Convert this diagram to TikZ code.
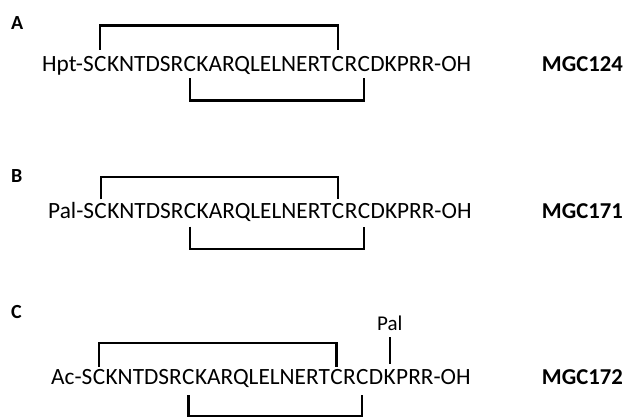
\documentclass[tikz,border=0pt]{standalone}
\usepackage{fontspec}
\setmainfont{Carlito}
\usepackage{tikz}
\usetikzlibrary{positioning,calc}

\begin{document}
\begin{tikzpicture}[x=1pt,y=1pt,
    res/.style={inner sep=0pt, anchor=base west, font=\fontsize{23.3}{28}\selectfont},
    panel/.style={inner sep=0pt, anchor=base west, font=\fontsize{20}{24}\selectfont\bfseries},
    pepname/.style={inner sep=0pt, anchor=base east, font=\fontsize{22.7}{27}\selectfont\bfseries},
    bond/.style={line width=2.2pt}]
\useasboundingbox (0,0) rectangle (628,416);

% A: MGC124
\node[panel] (lA) at (11,386) {A};
\node[res] (a0) at (42,344.3) {Hpt-S};
\node[res] (a1) at (a0.base east) {C};
\node[res] (a2) at (a1.base east) {KNTDSR};
\node[res] (a3) at (a2.base east) {C};
\node[res] (a4) at (a3.base east) {KARQLELNERT};
\node[res] (a5) at (a4.base east) {C};
\node[res] (a6) at (a5.base east) {R};
\node[res] (a7) at (a6.base east) {C};
\node[res] (a8) at (a7.base east) {DKPRR-OH};
\node[pepname] (nA) at (623,344.3) {MGC124};
\draw[bond] ([yshift=21.7pt]a1.base) -- ++(0,24.5) -| ([yshift=21.7pt]a5.base);
\draw[bond] ([yshift=-6.6pt]a3.base) -- ++(0,-22.2) -| ([yshift=-6.6pt]a7.base);

% B: MGC171
\node[panel] (lB) at (11,234) {B};
\node[res] (b0) at (48,198) {Pal-S};
\node[res] (b1) at (b0.base east) {C};
\node[res] (b2) at (b1.base east) {KNTDSR};
\node[res] (b3) at (b2.base east) {C};
\node[res] (b4) at (b3.base east) {KARQLELNERT};
\node[res] (b5) at (b4.base east) {C};
\node[res] (b6) at (b5.base east) {R};
\node[res] (b7) at (b6.base east) {C};
\node[res] (b8) at (b7.base east) {DKPRR-OH};
\node[pepname] (nB) at (623,198) {MGC171};
\draw[bond] ([yshift=18.7pt]b1.base) -- ++(0,22.3) -| ([yshift=18.7pt]b5.base);
\draw[bond] ([yshift=-8.7pt]b3.base) -- ++(0,-22.6) -| ([yshift=-8.7pt]b7.base);

% C: MGC172
\node[panel] (lC) at (11,98) {C};
\node[res] (c0) at (51,31.7) {Ac-S};
\node[res] (c1) at (c0.base east) {C};
\node[res] (c2) at (c1.base east) {KNTDSR};
\node[res] (c3) at (c2.base east) {C};
\node[res] (c4) at (c3.base east) {KARQLELNERT};
\node[res] (c5) at (c4.base east) {C};
\node[res] (c6) at (c5.base east) {R};
\node[res] (c7) at (c6.base east) {C};
\node[res] (c8) at (c7.base east) {D};
\node[res] (c9) at (c8.base east) {K};
\node[res] (c10) at (c9.base east) {PRR-OH};
\node[pepname] (nC) at (623,31.7) {MGC172};
\node[inner sep=0pt, anchor=base, font=\fontsize{21}{25}\selectfont] (pal) at ([yshift=53.6pt]c9.base) {Pal};
\draw[bond] ([yshift=20.3pt]c9.base) -- ([yshift=-6.3pt]pal.base);
\draw[bond] ([yshift=17.6pt]c1.base) -- ++(0,23.4) -| ([yshift=17.6pt]c5.base);
\draw[bond] ([yshift=-10.7pt]c3.base) -- ++(0,-21.2) -| ([yshift=-10.7pt]c7.base);
\end{tikzpicture}
\end{document}
